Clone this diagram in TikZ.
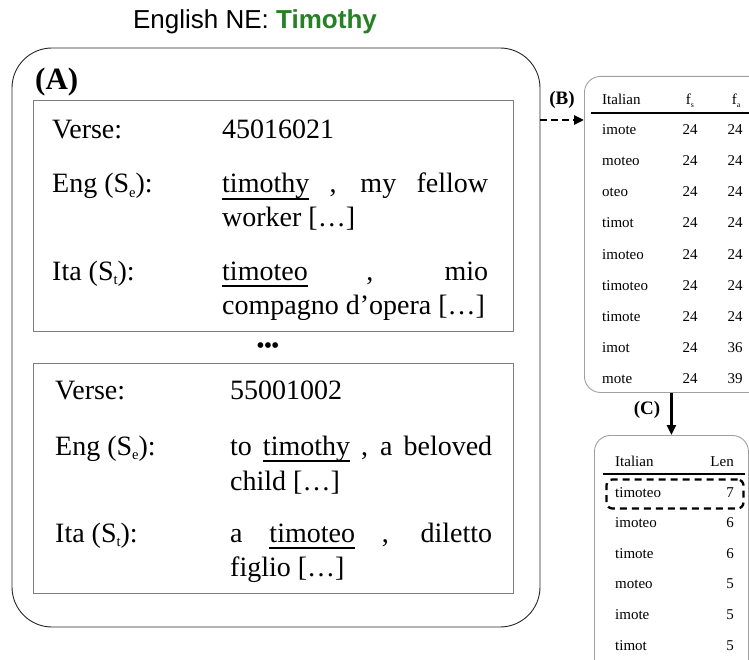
\documentclass[tikz,border=0pt]{standalone}
\usepackage{fontspec}
\setmainfont{Liberation Serif}
\newfontfamily\headfont{Liberation Sans}
\usepackage{xcolor}
\usetikzlibrary{arrows.meta, positioning}

\definecolor{negreen}{RGB}{38,128,38}
\definecolor{framegray}{RGB}{125,125,125}
\definecolor{tablegray}{RGB}{160,160,160}

% small lowered index, as in S_e
\newcommand{\lowsub}[1]{\raisebox{-0.15em}{\scalebox{0.52}{#1}}}
% named entity with a heavier underline
\newsavebox{\namebox}
\newcommand{\nameline}[1]{\sbox{\namebox}{#1}\rlap{\rule[-0.24em]{\wd\namebox}{1.6pt}}\usebox{\namebox}}

\begin{document}
\begin{tikzpicture}[
    x=1pt, y=-1pt,
    panel/.style={draw=black!85, rectangle, rounded corners=40pt, line width=0.9pt, inner sep=0pt, minimum width=528pt, minimum height=579pt},
    versebox/.style={draw=framegray, rectangle, line width=1pt, inner sep=0pt, minimum width=480pt, minimum height=230pt},
    tablebox/.style={draw=tablegray, rectangle, rounded corners=16pt, line width=0.9pt, inner sep=0pt, anchor=north west},
    txt/.style={anchor=base west, inner sep=0pt, font=\fontsize{28}{32}\selectfont},
    tag/.style={inner sep=0pt, font=\fontsize{19}{22}\selectfont\bfseries},
    cell/.style={anchor=base west, inner sep=0pt, font=\fontsize{15}{18}\selectfont},
    num/.style={anchor=base, inner sep=0pt, font=\fontsize{15}{18}\selectfont},
    arrow/.style={-{Triangle[length=10pt, width=9pt]}, line width=2.6pt}
]
\path [use as bounding box, clip] (0,0) rectangle (749,660);

% Title
\node (title) [anchor=base, inner sep=0pt, font=\headfont\fontsize{26}{30}\selectfont] at (255,29) {English NE: \textcolor{negreen}{\bfseries Timothy}};

% Panel (A) with the two verses
\node (panelA) [panel] at (276,337.5) {};
\node (tagA) [anchor=base west, inner sep=0pt, font=\fontsize{31}{34}\selectfont\bfseries] at (35,90) {(A)};
\node (verse1) [versebox] at (273,216) {};
\node (verse2) [versebox] at (273,478) {};
\node (dots) [inner sep=0pt, font=\fontsize{21}{21}\selectfont\bfseries] at (268,348) {•••};

% Verse 1
\node (v1-lbl) [txt] at (52,139) {Verse:};
\node (v1-id) [txt] at (222,139) {45016021};
\node (v1-englbl) [txt] at (52,193) {Eng (S\lowsub{e}):};
\node (v1-eng) [txt] at (222,193) {\makebox[266pt][s]{\nameline{timothy} , my fellow}};
\node (v1-eng2) [txt] at (222,227) {worker […]};
\node (v1-italbl) [txt] at (52,280) {Ita (S\lowsub{t}):};
\node (v1-ita) [txt] at (222,280) {\makebox[266pt][s]{\nameline{timoteo} , mio}};
\node (v1-ita2) [txt] at (222,314) {compagno d’opera […]};

% Verse 2
\node (v2-lbl) [txt] at (55,399) {Verse:};
\node (v2-id) [txt] at (230,399) {55001002};
\node (v2-englbl) [txt] at (55,455) {Eng (S\lowsub{e}):};
\node (v2-eng) [txt] at (230,455) {\makebox[262pt][s]{to \nameline{timothy} , a beloved}};
\node (v2-eng2) [txt] at (230,490) {child […]};
\node (v2-italbl) [txt] at (55,542) {Ita (S\lowsub{t}):};
\node (v2-ita) [txt] at (230,542) {\makebox[262pt][s]{a \nameline{timoteo} , diletto}};
\node (v2-ita2) [txt] at (230,576) {figlio […]};

% Table (B): candidate substrings
\node (tableB) [tablebox, minimum width=190pt, minimum height=316pt] at (584,76) {};
\node (tagB) [tag] at (562,100) {(B)};
\node (b-head) [cell] at (602,105) {Italian};
\node (b-fs) [num] at (690,105) {f\lowsub{s}};
\node (b-fa) [num] at (736,105) {f\lowsub{a}};
\draw [line width=1.2pt] (591,113) -- (760,113);
\foreach \w/\s/\a [count=\i] in {imote/24/24, moteo/24/24, oteo/24/24, timot/24/24, imoteo/24/24, timoteo/24/24, timote/24/24, imot/24/36, mote/24/39} {
    \node (b-word-\i) [cell] at (602,104+31*\i) {\w};
    \node (b-fs-\i) [num] at (690,104+31*\i) {\s};
    \node (b-fa-\i) [num] at (735,104+31*\i) {\a};
}

% Table (C): ranked by length
\node (tableC) [tablebox, minimum width=154pt, minimum height=260pt] at (594,435) {};
\node (tagC) [tag] at (647,410) {(C)};
\node (c-head) [cell] at (615,466) {Italian};
\node (c-len) [num, anchor=base east] at (734,466) {Len};
\draw [line width=1.2pt] (603,474) -- (745,474);
\foreach \w/\l [count=\i] in {timoteo/7, imoteo/6, timote/6, moteo/5, imote/5, timot/5} {
    \node (c-word-\i) [cell] at (615,466.4+30.6*\i) {\w};
    \node (c-len-\i) [num, anchor=base east] at (734,466.4+30.6*\i) {\l};
}
\node (pick) [draw, line width=2.3pt, dash pattern=on 7pt off 5pt, rounded corners=6pt, inner sep=0pt, minimum width=137pt, minimum height=29pt] at (675,494) {};

% Paths
\coordinate (linkB) at (0,120);
\draw [arrow, dash pattern=on 7pt off 4pt] (panelA.east |- linkB) -- (tableB.west |- linkB);
\draw [arrow] (tableC.north |- tableB.south) -- (tableC.north);

\end{tikzpicture}
\end{document}
